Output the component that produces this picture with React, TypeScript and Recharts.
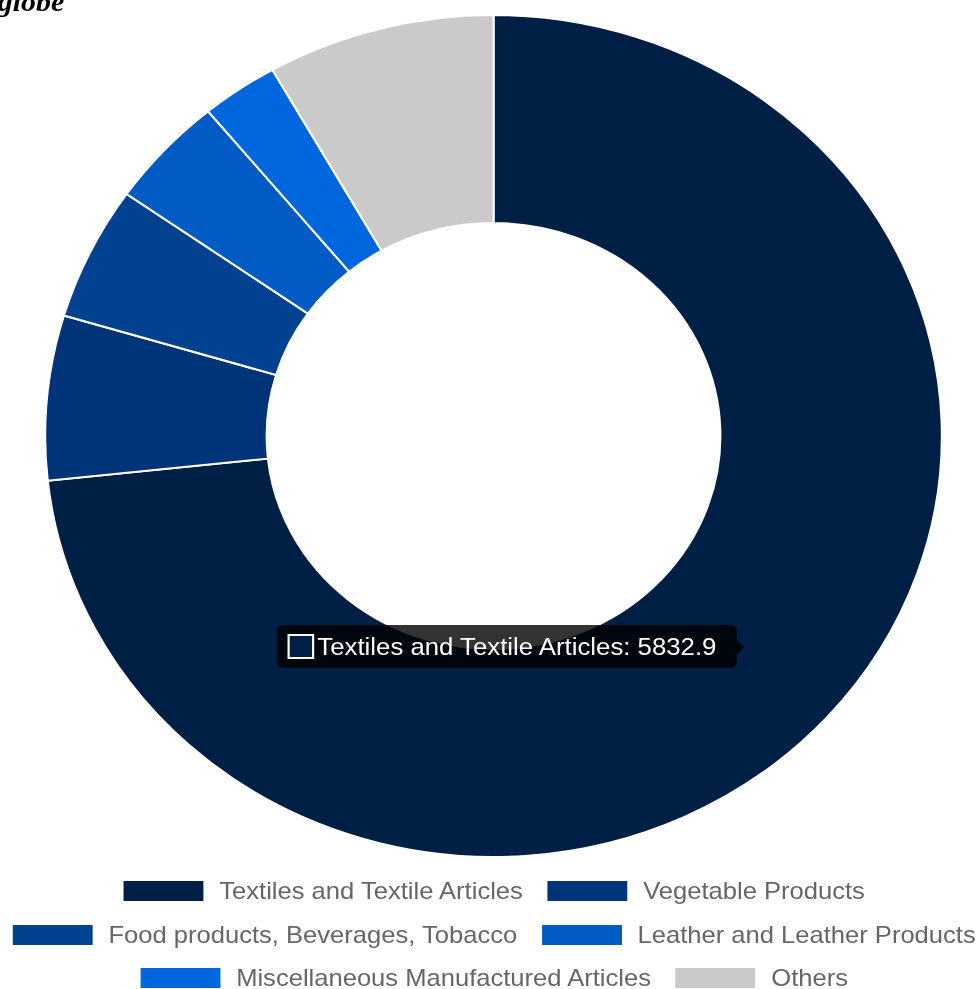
import { PieChart, Pie, Cell, Tooltip } from 'recharts'

const CATEGORIES = [
  'Textiles and Textile Articles',
  'Vegetable Products',
  'Food products, Beverages, Tobacco',
  'Leather and Leather Products',
  'Miscellaneous Manufactured Articles',
  'Others',
]

const VALUES = [5832.9, 502.4, 407.8, 340.1, 220.6, 653.1]

const COLORS = ['#001f45', '#003478', '#004190', '#005bc4', '#0066dd', '#cacaca']

const data = CATEGORIES.map((name, i) => ({ name, value: VALUES[i] }))

const FONT = 'Arial, "Liberation Sans", Helvetica, sans-serif'

// the reference is stretched a bit wider than tall
const STRETCH = 1.065
const W = 920

const LegendBlock = () => (
  <div
    style={{
      position: 'absolute',
      left: -11,
      top: 881,
      width: 950,
      display: 'flex',
      flexWrap: 'wrap',
      justifyContent: 'center',
      rowGap: 23.5,
      fontFamily: FONT,
      fontSize: 24,
      color: '#666',
    }}
  >
    {data.map((d, i) => (
      <div key={d.name} style={{ display: 'flex', alignItems: 'center', margin: '0 11.5px', height: 20 }}>
        <span style={{ width: 75, height: 20, background: COLORS[i], marginRight: 15, display: 'inline-block' }} />
        <span style={{ whiteSpace: 'nowrap', lineHeight: '20px' }}>{d.name}</span>
      </div>
    ))}
  </div>
)

const TooltipContent = ({ active, payload }: any) => {
  if (!active || !payload || !payload.length) return null
  const p = payload[0]
  const idx = CATEGORIES.indexOf(p.name)
  return (
    <div
      style={{
        position: 'relative',
        background: 'rgba(0,0,0,0.8)',
        borderRadius: 6,
        padding: '9px 19px 9px 10px',
        display: 'flex',
        alignItems: 'center',
        fontFamily: FONT,
        fontSize: 24.2,
        color: '#fff',
        whiteSpace: 'nowrap',
        boxSizing: 'border-box',
        height: 43,
      }}
    >
      <span
        style={{
          width: 21,
          height: 21,
          border: '2px solid #fff',
          background: COLORS[idx] ?? '#001f45',
          marginRight: 3,
          display: 'inline-block',
        }}
      />
      <span>{`${p.name}: ${p.value}`}</span>
      <span
        style={{
          position: 'absolute',
          right: -7,
          top: '50%',
          marginTop: -7,
          width: 0,
          height: 0,
          borderTop: '7px solid transparent',
          borderBottom: '7px solid transparent',
          borderLeft: '7px solid rgba(0,0,0,0.8)',
        }}
      />
    </div>
  )
}

export default function App() {
  return (
    <div style={{ position: 'absolute', left: 0, top: 0, width: 980, height: 989, background: '#fff', overflow: 'hidden' }}>
      <div
        style={{
          position: 'absolute',
          left: 0,
          top: 0,
          width: W,
          height: 989,
          transform: `scaleX(${STRETCH})`,
          transformOrigin: '0 0',
        }}
      >
        <div
          style={{
            position: 'absolute',
            left: -2,
            top: -14,
            fontFamily: 'serif',
            fontWeight: 'bold',
            fontStyle: 'italic',
            fontSize: 28,
            whiteSpace: 'nowrap',
          }}
        >
          globe
        </div>
        <PieChart width={W} height={870} margin={{ top: 0, right: 0, bottom: 0, left: 0 }}>
          <Pie
            data={data}
            dataKey="value"
            nameKey="name"
            cx={463.4}
            cy={436}
            innerRadius={213}
            outerRadius={421}
            startAngle={90}
            endAngle={-270}
            stroke="#fff"
            strokeWidth={2}
            isAnimationActive={false}
          >
            {data.map((d, i) => (
              <Cell key={d.name} fill={COLORS[i]} />
            ))}
          </Pie>
          <Tooltip
            defaultIndex={0}
            active
            position={{ x: 260, y: 625 }}
            content={<TooltipContent />}
            isAnimationActive={false}
            wrapperStyle={{ transition: 'none' }}
          />
        </PieChart>
        <LegendBlock />
      </div>
    </div>
  )
}
